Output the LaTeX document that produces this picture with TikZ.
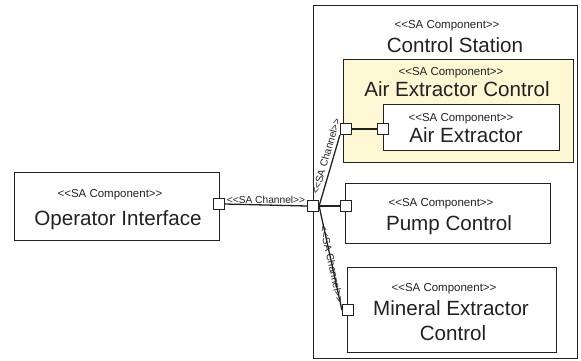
\documentclass[tikz,border=0pt]{standalone}
\usepackage{fontspec}
\setmainfont{Liberation Sans}[Ligatures=TeXReset]
\definecolor{aecfill}{HTML}{FDF7D3}
\definecolor{ink}{HTML}{222222}
\pgfdeclarelayer{fg}
\pgfsetlayers{main,fg}
\tikzset{
  comp/.style={draw=ink, line width=1.3pt, fill=white, anchor=north west, inner sep=0pt},
  port/.style={draw=ink, line width=1.2pt, fill=white, minimum size=11pt, inner sep=0pt},
  stereo/.style={anchor=base, inner sep=0pt, font=\fontsize{11.5}{13}\selectfont, text=ink},
  cname/.style={anchor=base, inner sep=0pt, font=\fontsize{20.6}{24}\selectfont, text=ink},
  chan/.style={line width=1.3pt, draw=ink},
  chlabel/.style={inner sep=1pt, font=\fontsize{10.2}{12}\selectfont, text=ink}
}
\begin{document}
\begin{tikzpicture}[x=1pt,y=-1pt]
\useasboundingbox (0,0) rectangle (581,360);
% Control Station
\node[comp, minimum width=264pt, minimum height=353pt] (cs) at (313,5) {};
\node[stereo] (csS) at (447,28) {<<SA Component>>};
\node[cname] (csN) at (455,52) {Control Station};
% Air Extractor Control
\node[comp, fill=aecfill, minimum width=230pt, minimum height=103pt] (aec) at (343,59) {};
\node[stereo] (aecS) at (451,75) {<<SA Component>>};
\node[cname] (aecN) at (457,96) {Air Extractor Control};
% Air Extractor
\node[comp, minimum width=176pt, minimum height=46pt] (ae) at (383,104) {};
\node[stereo] (aeS) at (461,121) {<<SA Component>>};
\node[cname] (aeN) at (466,142) {Air Extractor};
% Pump Control
\node[comp, minimum width=205pt, minimum height=60pt] (pc) at (345,183) {};
\node[stereo] (pcS) at (441,206) {<<SA Component>>};
\node[cname] (pcN) at (449,230) {Pump Control};
% Mineral Extractor Control
\node[comp, minimum width=209pt, minimum height=85pt] (me) at (347,267) {};
\node[stereo] (meS) at (444,291) {<<SA Component>>};
\node[cname] (meN1) at (451,315) {Mineral Extractor};
\node[cname] (meN2) at (453,340) {Control};
% Operator Interface
\node[comp, minimum width=205pt, minimum height=68pt] (oi) at (14,172) {};
\node[stereo] (oiS) at (110,197) {<<SA Component>>};
\node[cname] (oiN) at (118,225) {Operator Interface};
% ports
\begin{pgfonlayer}{fg}
\node[port] (J) at (313,206) {};
\node[port] (oip) at (219,204) {};
\node[port] (aecp) at (346,129) {};
\node[port] (aep) at (383,129) {};
\node[port] (pcp) at (346,206) {};
\node[port] (mep) at (348,310) {};
\end{pgfonlayer}
% connectors
\draw[chan] (oip.east) -- node[chlabel, above, pos=0.5] (l1) {<<SA Channel>>} (J.west);
\draw[chan] (J.east) -- node[chlabel, above=2pt, sloped, pos=0.67] (l2) {<<SA Channel>>} (aecp.south west);
\draw[chan] (J.east) -- (pcp.west);
\draw[chan] (J.east) -- node[chlabel, sloped, pos=0.56] (l3) {<<SA Channel>>} (mep.west);
\draw[chan] (aecp.east) -- (aep.west);
\end{tikzpicture}
\end{document}
